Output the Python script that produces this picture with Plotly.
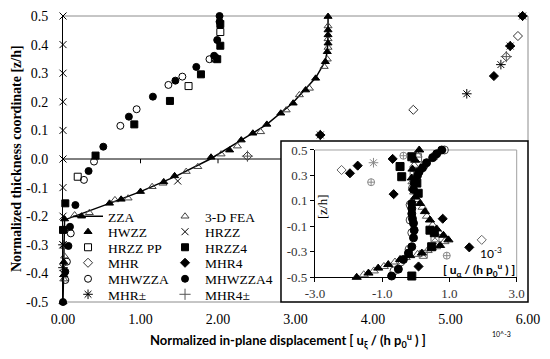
import plotly.graph_objects as go

# ---------------- main chart data ----------------
zza_x = [0.0, 0.01, 0.015, 0.02, 0.6, 1.0, 1.46, 1.9, 2.3, 2.63, 2.96, 3.11, 3.26, 3.38, 3.41, 3.42, 3.42]
zza_y = [-0.5, -0.4, -0.3, -0.213, -0.155, -0.114, -0.06, 0.0, 0.066, 0.121, 0.195, 0.241, 0.284, 0.34, 0.375, 0.43, 0.5]

hwzz_x = [0.0, 0.01, 0.01, 0.01, 0.02, 0.24, 0.6, 0.75, 1.0, 1.3, 1.44, 1.91, 2.15, 2.3, 2.45, 2.63, 2.81, 2.97, 3.13, 3.26, 3.385, 3.41, 3.42, 3.42, 3.42, 3.42]
hwzz_y = [-0.5, -0.405, -0.36, -0.246, -0.21, -0.2, -0.155, -0.141, -0.114, -0.08, -0.059, 0.006, 0.031, 0.066, 0.09, 0.121, 0.16, 0.195, 0.241, 0.282, 0.34, 0.375, 0.405, 0.434, 0.451, 0.498]

fea_x = [0.02, 0.02, 0.01, 0.15, 0.34, 0.67, 0.84, 1.15, 1.29, 1.59, 1.74, 2.04, 2.25, 2.55, 2.88, 3.05, 3.18, 3.37, 3.41, 3.42, 3.42, 3.42]
fea_y = [-0.306, -0.34, -0.42, -0.196, -0.188, -0.143, -0.137, -0.097, -0.085, -0.044, -0.027, 0.017, 0.045, 0.095, 0.171, 0.224, 0.247, 0.323, 0.349, 0.39, 0.42, 0.465]

hrzz_x = [0.0, 0.0, 0.0, 0.0, 0.0, 0.0, 0.0, 0.0, 0.0, 0.0, 1.48]
hrzz_y = [0.5, 0.4, 0.3, 0.2, 0.1, 0.0, -0.1, -0.2, -0.3, -0.4, -0.077]

hrzzpp_x = [0.19, 1.62, 1.96, 2.03]
hrzzpp_y = [-0.062, 0.255, 0.352, 0.444]

hrzz4_x = [0.0, 0.03, 0.42, 0.92, 1.38, 1.78, 1.99, 2.03, 2.03]
hrzz4_y = [-0.248, -0.155, 0.012, 0.121, 0.203, 0.296, 0.349, 0.396, 0.472]

mhr_x = [2.38, 4.52, 5.72, 5.87]
mhr_y = [0.01, 0.172, 0.358, 0.43]

mhr4_x = [3.32, 5.56, 5.77, 5.93]
mhr4_y = [0.084, 0.29, 0.395, 0.5]

mhwzza_x = [0.03, 0.05, 0.1, 0.27, 0.40, 0.74, 0.95, 1.36, 1.54, 1.89]
mhwzza_y = [-0.423, -0.359, -0.26, -0.073, -0.009, 0.116, 0.174, 0.259, 0.288, 0.349]

mhwzza4_x = [0.0, 0.03, 0.07, 0.09, 0.16, 0.33, 0.52, 0.85, 1.16, 1.45, 1.72, 1.95, 1.99, 2.02, 2.02]
mhwzza4_y = [-0.5, -0.394, -0.304, -0.237, -0.161, -0.042, 0.043, 0.148, 0.218, 0.274, 0.322, 0.361, 0.416, 0.48, 0.5]

mhrpm_x = [0.0, 0.0, 3.32, 5.21, 5.65, 5.77, 5.93]
mhrpm_y = [-0.3, -0.38, 0.084, 0.228, 0.33, 0.395, 0.5]

mhr4pm_x = [2.38, 5.72]
mhr4pm_y = [0.01, 0.358]

main_x_ticks = [0, 1, 2, 3, 4, 5, 6]
main_x_labels = ["0.00", "1.00", "2.00", "3.00", "4.00", "5.00", "6.00"]
main_y_ticks = [0.5, 0.4, 0.3, 0.2, 0.1, 0.0, -0.1, -0.2, -0.3, -0.4, -0.5]
main_y_labels = ["0.5", "0.4", "0.3", "0.2", "0.1", "0.0", "-0.1", "-0.2", "-0.3", "-0.4", "-0.5"]

# ---------------- inset data ----------------
in_hwzz_x = [-1.76, -1.41, -1.12, -0.82, -0.47, -0.17, 0.18, 0.47, 0.72, 0.97, 0.82, 0.62, 0.42, 0.27, 0.125, -0.02, -0.08, -0.12, -0.1, -0.02, 0.1]
in_hwzz_y = [-0.5, -0.467, -0.428, -0.40, -0.36, -0.33, -0.31, -0.27, -0.25, -0.206, -0.17, -0.12, -0.05, 0.016, 0.08, 0.13, 0.2, 0.28, 0.35, 0.42, 0.5]

in_fea_x = [-1.55, -1.25, -0.95, -0.62, -0.3, 0.05, 0.35, 0.6, 0.85, 0.7, 0.5, 0.33, 0.2, 0.05, -0.05, -0.1, -0.05, 0.05]
in_fea_y = [-0.48, -0.45, -0.415, -0.38, -0.345, -0.32, -0.29, -0.26, -0.22, -0.15, -0.09, -0.02, 0.05, 0.11, 0.17, 0.25, 0.38, 0.46]

in_hrzz_x = [0.57, 0.22]
in_hrzz_y = [-0.19, -0.32]

in_hrzzpp_x = [0.57, 0.22, 0.05, -0.05]
in_hrzzpp_y = [-0.19, -0.32, 0.44, 0.3]

in_hrzz4_x = [-0.12, -0.47, -0.42, 0.03, 0.07, 0.42, 0.55, 0.47, -0.12]
in_hrzz4_y = [0.447, 0.37, 0.29, 0.24, 0.16, -0.13, -0.15, -0.26, -0.49]

in_mhr_x = [-2.21, 1.96]
in_mhr_y = [0.343, -0.206]

in_mhr4_x = [-1.96, -1.73, -0.69, -0.66, 0.80, 1.59, 0.08]
in_mhr4_y = [0.317, 0.377, 0.43, 0.153, -0.04, -0.265, -0.415]

in_mhwzza_x = [0.85, 0.55, 0.25, 0.05, -0.1, -0.17, -0.17, -0.12, -0.2, -0.45, -0.65]
in_mhwzza_y = [0.5, 0.45, 0.38, 0.33, 0.2, 0.07, -0.05, -0.15, -0.28, -0.38, -0.45]

in_mhwzza4_x = [0.77, 0.62, 0.5, 0.32, 0.2, 0.1, 0.05, -0.05, -0.07, -0.12, -0.12, -0.12, -0.1, -0.07, -0.05, -0.07, -0.12, -0.22, -0.37, -0.52, -0.72]
in_mhwzza4_y = [0.5, 0.47, 0.44, 0.40, 0.36, 0.33, 0.30, 0.24, 0.19, 0.08, 0.04, 0.0, -0.04, -0.075, -0.13, -0.19, -0.26, -0.31, -0.36, -0.436, -0.49]

in_mhrpm_x = [-1.26]
in_mhrpm_y = [0.40]

in_mhr4pm_x = [-1.33, -0.37, 0.92]
in_mhr4pm_y = [0.247, 0.455, -0.33]

in_x_ticks = [-3, -1, 1, 3]
in_x_labels = ["-3.0", "-1.0", "1.0", "3.0"]
in_y_ticks = [0.5, 0.3, 0.1, -0.1, -0.3, -0.5]
in_y_labels = ["0.5", "0.3", "0.1", "-0.1", "-0.3", "-0.5"]

SERIF = "Liberation Serif, Times New Roman, serif"
SANS = "Lato, Arial, sans-serif"

# legend layout: two columns of six entries, each entry its own legend box
LEG_COL_X = [0.0108, 0.2194]
LEG_ROW_Y = [0.299, 0.245, 0.1906, 0.1364, 0.0804, 0.0262]

fig = go.Figure()
legend_counter = [0]


def next_legend():
    legend_counter[0] += 1
    n = legend_counter[0]
    return "legend" if n == 1 else "legend%d" % n


def pts(name, x, y, symbol, size, color="black", show=True, xa="x", ya="y", lw=1.0):
    return go.Scatter(
        x=x, y=y, mode="markers", name=name, showlegend=show,
        legend=next_legend() if show else None,
        xaxis=xa, yaxis=ya, cliponaxis=False,
        marker=dict(symbol=symbol, size=size, color=color,
                    line=dict(color=color, width=lw)),
    )


# main series, in legend order (row-major, two columns)
fig.add_trace(go.Scatter(x=zza_x, y=zza_y, mode="lines", name="ZZA",
                         line=dict(color="black", width=1.5), legend=next_legend()))
fig.add_trace(pts("3-D FEA", fea_x, fea_y, "triangle-up-open", 7, "#444"))
fig.add_trace(pts("HWZZ", hwzz_x, hwzz_y, "triangle-up", 7))
fig.add_trace(pts("HRZZ", hrzz_x, hrzz_y, "x-thin", 7))
fig.add_trace(pts("HRZZ PP", hrzzpp_x, hrzzpp_y, "square-open", 7))
fig.add_trace(pts("HRZZ4", hrzz4_x, hrzz4_y, "square", 7))
fig.add_trace(pts("MHR", mhr_x, mhr_y, "diamond-open", 7, "#333"))
fig.add_trace(pts("MHR4", mhr4_x, mhr4_y, "diamond", 7))
fig.add_trace(pts("MHWZZA", mhwzza_x, mhwzza_y, "circle-open", 7))
fig.add_trace(pts("MHWZZA4", mhwzza4_x, mhwzza4_y, "circle", 7))
fig.add_trace(pts("MHR\u00b1", mhrpm_x, mhrpm_y, "asterisk-open", 8))
fig.add_trace(pts("MHR4\u00b1", mhr4pm_x, mhr4pm_y, "cross-thin-open", 8, "#555"))

# inset series
fig.add_trace(pts("3-D FEA", in_fea_x, in_fea_y, "triangle-up-open", 8, "#555", show=False, xa="x2", ya="y2"))
fig.add_trace(pts("HRZZ PP", in_hrzzpp_x, in_hrzzpp_y, "square-open", 8, "#666", show=False, xa="x2", ya="y2"))
fig.add_trace(pts("HRZZ", in_hrzz_x, in_hrzz_y, "x-thin", 7, "#666", show=False, xa="x2", ya="y2"))
fig.add_trace(pts("MHWZZA", in_mhwzza_x, in_mhwzza_y, "circle-open", 8, "#444", show=False, xa="x2", ya="y2"))
fig.add_trace(pts("HWZZ", in_hwzz_x, in_hwzz_y, "triangle-up", 8, show=False, xa="x2", ya="y2"))
fig.add_trace(pts("HRZZ4", in_hrzz4_x, in_hrzz4_y, "square", 8, show=False, xa="x2", ya="y2"))
fig.add_trace(pts("MHWZZA4", in_mhwzza4_x, in_mhwzza4_y, "circle", 8, show=False, xa="x2", ya="y2"))
fig.add_trace(pts("MHR", in_mhr_x, in_mhr_y, "diamond-open", 7, "#666", show=False, xa="x2", ya="y2"))
fig.add_trace(pts("MHR4", in_mhr4_x, in_mhr4_y, "diamond", 7, show=False, xa="x2", ya="y2"))
fig.add_trace(pts("MHR\u00b1", in_mhrpm_x, in_mhrpm_y, "asterisk-open", 8, "#888", show=False, xa="x2", ya="y2"))
fig.add_trace(pts("MHR4\u00b1", in_mhr4pm_x, in_mhr4pm_y, "circle-cross-open", 7, "#888", show=False, xa="x2", ya="y2"))

legend_layout = {}
for i in range(legend_counter[0]):
    key = "legend" if i == 0 else "legend%d" % (i + 1)
    legend_layout[key] = dict(
        x=LEG_COL_X[i % 2], y=LEG_ROW_Y[i // 2], xanchor="left", yanchor="middle",
        bgcolor="rgba(0,0,0,0)", borderwidth=0, itemwidth=30,
        font=dict(family=SERIF, size=13.5, color="black"),
    )

FRAME_X0 = 0.4688   # paper fraction where inset frame starts
FRAME_Y1 = 0.563    # paper fraction of inset frame top

shapes = [
    dict(type="line", xref="x domain", yref="y domain", x0=0, x1=1, y0=1, y1=1,
         line=dict(color="#8c8c8c", width=1), layer="below"),
    dict(type="line", xref="x domain", yref="y domain", x0=1, x1=1, y0=1, y1=FRAME_Y1,
         line=dict(color="#8c8c8c", width=1), layer="below"),
    dict(type="line", xref="x domain", yref="y domain", x0=0, x1=FRAME_X0, y0=0, y1=0,
         line=dict(color="#8c8c8c", width=1), layer="below"),
    dict(type="line", xref="x domain", yref="y", x0=0, x1=FRAME_X0, y0=0, y1=0,
         line=dict(color="black", width=1), layer="below"),
    dict(type="rect", xref="paper", yref="paper", x0=FRAME_X0, x1=1.0, y0=0, y1=FRAME_Y1,
         line=dict(color="black", width=1.5), fillcolor="rgba(0,0,0,0)", layer="below"),
    dict(type="line", xref="x2 domain", yref="y2 domain", x0=0, x1=1, y0=1, y1=1,
         line=dict(color="#a0a0a0", width=1), layer="below"),
    dict(type="line", xref="x2 domain", yref="y2 domain", x0=1, x1=1, y0=0, y1=1,
         line=dict(color="#a0a0a0", width=1), layer="below"),
]
for v in main_x_ticks:
    if 0 < v < 2.8:
        shapes.append(dict(type="line", xref="x", yref="y", x0=v, x1=v, y0=0, y1=-0.015,
                           line=dict(color="black", width=1), layer="below"))

annotations = [
    dict(text="<b>Normalized in-plane displacement [ u<sub>\u03be</sub> / (h p<sub>0</sub><sup>u</sup> ) ]</b>",
         xref="paper", yref="paper", x=0.483, y=-0.133, xanchor="center", yanchor="middle",
         showarrow=False, font=dict(family=SANS, size=13, color="black")),
    dict(text="10^-3", xref="paper", yref="paper", x=0.944, y=-0.112, xanchor="center",
         yanchor="middle", showarrow=False, font=dict(family=SANS, size=7, color="black")),
    dict(text="<b>Normalized thickness coordinate [z/h]</b>", xref="paper", yref="paper",
         x=-0.101, y=0.5, xanchor="center", yanchor="middle", textangle=-90, showarrow=False,
         font=dict(family=SERIF, size=14, color="black")),
    dict(text="[z/h]", xref="x2 domain", yref="y2 domain", x=0.035, y=0.552,
         xanchor="center", yanchor="middle", textangle=-90, showarrow=False,
         font=dict(family=SERIF, size=13, color="black")),
    dict(text="10<sup>-3</sup>", xref="x2 domain", yref="y2 domain", x=0.935, y=0.19,
         xanchor="right", yanchor="middle", showarrow=False,
         font=dict(family=SANS, size=12, color="black")),
    dict(text="<b>[ u<sub>\u03b1</sub> / (h p<sub>0</sub><sup>u</sup> ) ]</b>", xref="x2 domain",
         yref="y2 domain", x=1.0, y=0.06, xanchor="right", yanchor="middle", showarrow=False,
         font=dict(family=SANS, size=12, color="black")),
]

fig.update_layout(
    width=550, height=359, autosize=False,
    margin=dict(l=63, r=22, t=16, b=57, pad=0),
    paper_bgcolor="white", plot_bgcolor="rgba(0,0,0,0)",
    showlegend=True,
    xaxis=dict(range=[0, 6], tickvals=main_x_ticks, ticktext=main_x_labels, automargin=False,
               showgrid=False, zeroline=False, showline=False,
               ticks="outside", ticklen=4, tickcolor="rgba(0,0,0,0)",
               tickfont=dict(family=SERIF, size=14, color="black"), domain=[0, 1]),
    yaxis=dict(range=[-0.5, 0.5], tickvals=main_y_ticks, ticktext=main_y_labels, automargin=False,
               showgrid=False, zeroline=False, showline=True, linecolor="black", linewidth=1,
               ticks="outside", ticklen=11, tickcolor="rgba(0,0,0,0)",
               tickfont=dict(family=SERIF, size=14, color="black"), domain=[0, 1]),
    xaxis2=dict(domain=[0.5419, 0.9757], anchor="y2", range=[-3, 3], automargin=False,
                tickvals=in_x_ticks, ticktext=in_x_labels,
                showgrid=False, zeroline=False, showline=True, linecolor="black", linewidth=1,
                ticks="outside", ticklen=4, tickcolor="black",
                tickfont=dict(family=SERIF, size=13, color="#333")),
    yaxis2=dict(domain=[0.0864, 0.5315], anchor="x2", range=[-0.5, 0.5], automargin=False,
                tickvals=in_y_ticks, ticktext=in_y_labels,
                showgrid=False, zeroline=False, showline=True, linecolor="black", linewidth=1,
                ticks="outside", ticklen=4, tickcolor="black",
                tickfont=dict(family=SERIF, size=13, color="#333")),
    shapes=shapes,
    annotations=annotations,
    **legend_layout,
)

fig.write_html(
    "out.html",
    config={"displayModeBar": False},
    post_script="document.body.style.margin='0';document.body.style.overflow='hidden';",
)
